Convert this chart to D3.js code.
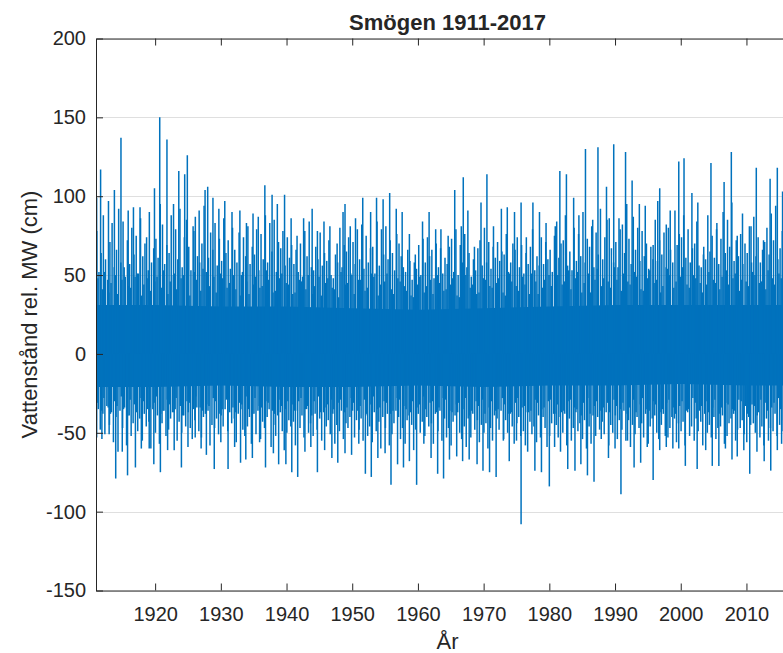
<!DOCTYPE html>
<html>
<head>
<meta charset="utf-8">
<script src="https://cdn.jsdelivr.net/npm/d3@7"></script>
<style>
  body { margin: 0; background: #fff; }
  text { font-family: "Liberation Sans", Arial, Helvetica, sans-serif; fill: #262626; }
</style>
</head>
<body>
<div class="canvas"></div>
<script>
// tick values
const xTicks = [1920, 1930, 1940, 1950, 1960, 1970, 1980, 1990, 2000, 2010];
const yTicks = [-150, -100, -50, 0, 50, 100, 150, 200];

// tall storm surges (year, cm)
const peakYear = [1911.1, 1911.7, 1912.9, 1913.8, 1914.8, 1915.9, 1916.7, 1917.7, 1918.7, 1919.9,
  1920.7, 1921.8, 1922.8, 1923.6, 1924.5, 1924.9, 1925.9, 1926.7, 1927.6, 1928.0, 1928.8, 1929.7,
  1930.6, 1931.7, 1932.9, 1933.9, 1934.9, 1935.7, 1936.7, 1937.8, 1938.6, 1939.7, 1940.7, 1941.6,
  1942.6, 1943.9, 1944.7, 1945.7, 1946.6, 1947.7, 1948.6, 1948.9, 1949.7, 1950.5, 1951.6, 1952.8,
  1953.7, 1954.7, 1955.7, 1956.7, 1957.6, 1958.7, 1959.6, 1960.7, 1961.7, 1962.7, 1963.5, 1964.6,
  1965.6, 1966.6, 1966.9, 1967.6, 1968.6, 1969.6, 1970.5, 1971.5, 1972.7, 1973.6, 1974.7, 1975.7,
  1976.5, 1977.5, 1978.5, 1979.5, 1980.9, 1981.6, 1982.6, 1983.7, 1984.5, 1985.5, 1986.6, 1987.4,
  1988.7, 1989.8, 1990.6, 1991.6, 1992.6, 1993.7, 1994.6, 1995.8, 1996.5, 1996.8, 1997.8, 1998.4,
  1999.7, 2000.5, 2001.7, 2002.6, 2003.5, 2004.6, 2005.5, 2006.6, 2007.7, 2008.6, 2009.4, 2010.7,
  2011.5, 2012.6, 2013.6, 2014.7, 2015.5, 2016.1, 2017.0];
const peakVal = [99, 117, 97, 104, 137, 91, 93, 93, 74, 105,
  150, 136, 95, 116, 114, 126, 78, 91, 104, 106, 99, 92,
  97, 90, 91, 83, 89, 87, 107, 101, 95, 101, 86, 75,
  86, 92, 78, 84, 81, 70, 90, 95, 81, 86, 99, 90,
  99, 98, 102, 92, 90, 76, 63, 84, 90, 79, 79, 75,
  104, 81, 112, 91, 68, 96, 114, 81, 92, 93, 90, 96,
  74, 96, 90, 83, 81, 116, 114, 99, 88, 130, 85, 131,
  106, 133, 86, 128, 110, 95, 94, 69, 97, 105, 82, 91,
  122, 124, 102, 96, 68, 121, 83, 109, 128, 75, 89, 81,
  118, 72, 111, 118, 103, 95, 100];

// deep low waters (year, cm)
const troughYear = [1911.1, 1911.9, 1913.0, 1914.0, 1915.0, 1915.8, 1917.0, 1917.9, 1919.1, 1919.8,
  1920.8, 1921.9, 1922.9, 1924.0, 1925.0, 1926.1, 1927.0, 1927.8, 1929.0, 1930.0, 1931.1, 1932.1,
  1933.0, 1933.8, 1934.8, 1935.9, 1936.8, 1938.0, 1938.8, 1939.9, 1940.8, 1941.7, 1942.8, 1943.7,
  1944.7, 1945.8, 1946.9, 1947.8, 1948.9, 1949.9, 1951.0, 1952.0, 1952.9, 1953.9, 1955.0, 1955.9,
  1956.9, 1957.8, 1958.7, 1959.8, 1960.9, 1962.0, 1963.0, 1963.9, 1964.8, 1965.9, 1966.8, 1967.8,
  1969.0, 1969.9, 1970.9, 1971.9, 1973.0, 1973.9, 1975.0, 1975.7, 1976.7, 1977.8, 1978.8, 1980.0,
  1980.8, 1981.7, 1982.8, 1983.9, 1984.8, 1985.8, 1986.8, 1987.9, 1989.0, 1990.0, 1990.9, 1991.9,
  1992.9, 1993.9, 1994.9, 1995.8, 1996.8, 1997.8, 1998.8, 1999.7, 2000.7, 2002.5, 2003.8, 2004.8,
  2005.8, 2006.8, 2007.8, 2008.6, 2009.6, 2010.5, 2011.6, 2012.7, 2013.7, 2014.7, 2015.4, 2016.5,
  2017.3];
const troughVal = [-53, -54, -51, -79, -62, -77, -72, -60, -60, -70,
  -75, -61, -61, -72, -59, -53, -60, -64, -73, -56, -73, -59,
  -69, -67, -66, -56, -72, -63, -70, -70, -75, -78, -62, -59,
  -75, -61, -66, -69, -63, -64, -57, -76, -78, -66, -63, -83,
  -70, -72, -68, -83, -57, -66, -76, -79, -67, -65, -68, -67,
  -70, -74, -75, -78, -55, -68, -55, -108, -62, -74, -75, -84,
  -59, -62, -73, -74, -70, -77, -81, -54, -66, -60, -89, -55,
  -72, -69, -59, -80, -61, -59, -60, -60, -71, -73, -61, -71,
  -71, -60, -67, -65, -61, -76, -62, -68, -74, -61, -49, -60,
  -65];

// lesser highs, three per year from 1911 to 2017
const subHigh = [
  78,52,64, 88,60,47, 71,83,55, 66,92,58, 84,49,72, 57,80,63, 75,51,86, 62,70,48, 90,58,67, 73,61,95,
  82,57,69, 64,88,50, 79,60,92, 55,74,85, 68,53,81, 87,62,58, 70,94,52, 61,77,66, 83,56,73, 59,86,64,
  72,54,80, 66,58,77, 50,74,62, 81,57,68, 63,79,53, 76,60,88, 58,83,65, 85,52,71, 67,78,56, 74,61,69,
  57,66,52, 70,49,78, 62,84,55, 53,68,60, 77,56,64, 59,72,50, 48,63,58, 80,55,69, 65,74,51, 71,57,79,
  60,82,54, 75,58,67, 68,51,84, 56,79,63, 81,60,72, 64,53,76, 70,62,55, 52,66,59, 47,58,54, 69,50,73,
  58,74,62, 66,48,70, 55,67,51, 61,57,68, 73,52,79, 50,69,58, 76,55,64, 49,60,53, 67,72,56, 80,58,71,
  54,68,61, 71,59,65, 63,76,52, 58,70,66, 74,55,69, 51,64,57, 68,79,53, 62,56,74, 57,71,60, 66,52,75,
  84,61,70, 72,88,56, 65,53,80, 59,76,62, 90,58,73, 68,81,55, 77,63,92, 60,74,85, 86,67,58, 71,55,79,
  82,64,95, 73,57,87, 66,80,59, 78,62,70, 54,68,60, 85,59,72, 63,77,55, 80,66,58, 91,69,76, 74,88,61,
  79,58,67, 70,84,56, 55,63,60, 88,65,75, 61,79,57, 73,90,64, 85,68,96, 59,72,62, 76,57,70, 64,81,58,
  87,62,74, 58,66,71, 80,63,89, 72,94,60, 67,78,56, 75,61,83, 69,86,58];

// lesser lows, three per year from 1911 to 2017
const subLow = [
  -42,-35,-48, -38,-51,-33, -45,-37,-56, -40,-62,-36, -47,-34,-58, -39,-52,-44, -36,-49,-41, -55,-38,-46, -43,-60,-35, -50,-39,-57,
  -44,-36,-52, -48,-41,-37, -35,-55,-43, -50,-39,-46, -37,-47,-54, -42,-34,-49, -53,-40,-38, -36,-58,-45, -47,-41,-51, -39,-46,-35,
  -49,-37,-44, -41,-56,-38, -35,-48,-52, -46,-40,-57, -38,-51,-36, -54,-43,-47, -40,-35,-59, -45,-52,-39, -37,-49,-61, -50,-42,-46,
  -43,-58,-36, -47,-39,-53, -35,-50,-44, -52,-38,-48, -41,-55,-37, -46,-42,-51, -38,-57,-45, -49,-36,-54, -44,-47,-40, -36,-53,-42,
  -48,-41,-55, -39,-52,-46, -56,-37,-49, -43,-60,-40, -47,-38,-58, -51,-44,-36, -40,-54,-47, -57,-42,-39, -45,-61,-48, -38,-50,-43,
  -52,-40,-46, -44,-57,-38, -49,-36,-55, -41,-53,-47, -58,-43,-39, -37,-50,-54, -46,-59,-41, -53,-38,-48, -42,-56,-45, -50,-44,-60,
  -47,-55,-39, -41,-48,-36, -54,-42,-50, -38,-46,-57, -44,-40,-52, -49,-58,-37, -43,-51,-46, -56,-39,-53, -40,-47,-59, -52,-44,-38,
  -45,-53,-40, -50,-38,-58, -41,-55,-47, -37,-49,-44, -54,-42,-60, -46,-57,-39, -52,-40,-48, -43,-51,-37, -58,-45,-50, -39,-54,-42,
  -48,-36,-55, -42,-59,-45, -51,-40,-47, -44,-53,-38, -57,-46,-41, -39,-50,-54, -45,-38,-52, -53,-47,-40, -41,-56,-44, -49,-43,-58,
  -37,-52,-46, -55,-41,-49, -43,-58,-38, -50,-45,-53, -40,-54,-47, -46,-39,-57, -52,-44,-41, -38,-55,-48, -47,-42,-51, -56,-40,-45,
  -44,-50,-39, -53,-46,-58, -41,-55,-47, -49,-38,-52, -45,-57,-42, -40,-51,-48, -54,-43,-46];

// ragged edge of the dense band, two highs and two lows per year from 1911 to 2017
const midHigh = [
  48,41, 52,39, 45,50, 38,47, 55,43, 42,49, 51,37, 44,53, 40,46, 49,42,
  53,38, 46,51, 41,48, 50,44, 37,52, 47,40, 54,45, 43,49, 39,51, 48,42,
  45,50, 41,37, 52,46, 38,44, 49,42, 43,53, 47,39, 40,48, 51,45, 44,38,
  39,47, 46,41, 50,38, 43,49, 37,45, 48,42, 41,36, 52,44, 45,50, 38,47,
  47,40, 42,51, 49,37, 44,46, 51,41, 38,48, 46,43, 40,37, 36,44, 49,39,
  43,47, 38,50, 45,40, 41,44, 48,37, 36,46, 50,42, 44,38, 39,48, 47,43,
  42,45, 48,39, 37,51, 46,43, 40,49, 44,38, 51,46, 38,42, 47,50, 43,41,
  50,44, 46,53, 41,48, 52,39, 45,51, 39,47, 54,43, 48,46, 42,55, 47,40,
  51,46, 44,52, 49,41, 40,48, 53,45, 47,39, 43,54, 50,42, 46,49, 55,44,
  42,50, 48,45, 39,44, 52,47, 45,41, 49,53, 44,48, 51,40, 47,46, 43,52,
  50,45, 46,41, 53,48, 44,51, 48,43, 41,49, 52,46];
const midLow = [
  -31,-36, -28,-34, -38,-30, -33,-27, -35,-39, -29,-32, -37,-28, -30,-35, -34,-31, -27,-38,
  -36,-29, -32,-37, -28,-33, -39,-30, -31,-35, -27,-34, -36,-32, -33,-28, -30,-38, -35,-29,
  -29,-34, -37,-31, -32,-27, -35,-38, -28,-33, -34,-30, -31,-36, -38,-29, -33,-35, -30,-32,
  -36,-30, -28,-35, -33,-39, -30,-27, -37,-34, -32,-29, -35,-31, -29,-37, -34,-28, -31,-36,
  -33,-29, -38,-32, -27,-35, -34,-30, -31,-38, -36,-28, -29,-33, -35,-37, -30,-34, -32,-27,
  -35,-31, -30,-37, -34,-28, -29,-36, -37,-32, -31,-35, -28,-39, -36,-30, -33,-29, -38,-34,
  -30,-36, -35,-28, -32,-38, -37,-31, -28,-34, -33,-37, -36,-29, -31,-35, -34,-30, -29,-38,
  -32,-37, -36,-30, -29,-34, -35,-39, -31,-28, -38,-33, -30,-36, -34,-31, -37,-29, -33,-35,
  -31,-38, -34,-29, -37,-32, -28,-35, -36,-30, -32,-37, -35,-31, -29,-34, -38,-33, -30,-36,
  -35,-28, -31,-36, -33,-30, -37,-34, -29,-38, -34,-31, -32,-35, -36,-29, -30,-33, -38,-32,
  -33,-37, -29,-31, -36,-34, -31,-28, -35,-38, -30,-33, -34,-36];

// solid band of everyday water levels, by decade
const coreYear = [1911, 1920, 1930, 1940, 1950, 1960, 1970, 1980, 1990, 2000, 2010, 2018];
const coreHi = [31, 31, 30, 30, 29, 28, 29, 30, 31, 31, 31, 31];
const coreLo = [-21, -21, -20, -21, -21, -20, -21, -20, -20, -19, -20, -20];

// margins and dimensions
const w = 783;
const h = 653;
const plotLeft = 96, plotRight = 799, plotTop = 38.5, plotBottom = 590.5;
const blue = "#0072BD";

const svg = d3.select(".canvas").append("svg").attr("width", w).attr("height", h);

const x = d3.scaleLinear().domain([1911, 2018]).range([plotLeft, plotRight]);
const y = d3.scaleLinear().domain([-150, 200]).range([plotBottom, plotTop]);

// horizontal grid
svg.append("g")
  .selectAll("line")
  .data(yTicks)
  .enter()
  .append("line")
  .attr("x1", plotLeft).attr("x2", plotRight)
  .attr("y1", (d) => Math.round(y(d)) + 0.5).attr("y2", (d) => Math.round(y(d)) + 0.5)
  .attr("stroke", "#dfdfdf").attr("stroke-width", 1);

svg.append("clipPath").attr("id", "plot")
  .append("rect").attr("x", plotLeft).attr("y", plotTop)
  .attr("width", plotRight - plotLeft).attr("height", plotBottom - plotTop);

const graph = svg.append("g").attr("clip-path", "url(#plot)");

// stems: one list of [year, value]
const stems = [];
peakYear.forEach((t, i) => stems.push([t, peakVal[i]]));
troughYear.forEach((t, i) => stems.push([t, troughVal[i]]));
const hiOffset = [0.12, 0.45, 0.78];
const loOffset = [0.05, 0.35, 0.65];
subHigh.forEach((v, i) => stems.push([1911 + Math.floor(i / 3) + hiOffset[i % 3], v]));
subLow.forEach((v, i) => stems.push([1911 + Math.floor(i / 3) + loOffset[i % 3], v]));
const midHiOffset = [0.29, 0.95];
const midLoOffset = [0.2, 0.85];
midHigh.forEach((v, i) => stems.push([1911 + Math.floor(i / 2) + midHiOffset[i % 2], v]));
midLow.forEach((v, i) => stems.push([1911 + Math.floor(i / 2) + midLoOffset[i % 2], v]));

// everyday band
graph.append("path")
  .datum(coreYear.map((t, i) => [t, coreHi[i], coreLo[i]]))
  .attr("d", d3.area().x((d) => x(d[0])).y0((d) => y(d[2])).y1((d) => y(d[1])))
  .attr("fill", blue);

graph.append("g")
  .selectAll("line")
  .data(stems)
  .enter()
  .append("line")
  .attr("x1", (d) => x(d[0])).attr("x2", (d) => x(d[0]))
  .attr("y1", y(0)).attr("y2", (d) => y(d[1]))
  .attr("stroke", blue).attr("stroke-width", 1.5);

// axes, ticks pointing inwards
const style = (g) => {
  g.attr("font-family", null).attr("font-size", 20);
  g.selectAll("path, line").attr("stroke", "#262626");
  g.selectAll("text").attr("fill", "#262626");
};

svg.append("g")
  .attr("transform", `translate(0, ${plotBottom})`)
  .call(d3.axisBottom(x).tickValues(xTicks).tickSize(-7).tickSizeOuter(0).tickPadding(16).tickFormat(d3.format("d")))
  .call(style);

svg.append("g")
  .attr("transform", `translate(0, ${plotTop})`)
  .call(d3.axisTop(x).tickValues(xTicks).tickSize(-7).tickSizeOuter(0).tickFormat(""))
  .call(style);

svg.append("g")
  .attr("transform", `translate(${plotLeft}, 0)`)
  .call(d3.axisLeft(y).tickValues(yTicks).tickSize(-7).tickSizeOuter(0).tickPadding(10).tickFormat((d) => String(d)))
  .call(style);

// title and labels
svg.append("text")
  .attr("x", (plotLeft + plotRight) / 2).attr("y", 30)
  .attr("text-anchor", "middle").attr("font-size", 22).attr("font-weight", "bold")
  .text("Smögen 1911-2017");

svg.append("text")
  .attr("x", (plotLeft + plotRight) / 2).attr("y", 649)
  .attr("text-anchor", "middle").attr("font-size", 22)
  .text("År");

svg.append("text")
  .attr("transform", `translate(37, ${(plotTop + plotBottom) / 2}) rotate(-90)`)
  .attr("text-anchor", "middle").attr("font-size", 22)
  .text("Vattenstånd rel. MW (cm)");
</script>
</body>
</html>
